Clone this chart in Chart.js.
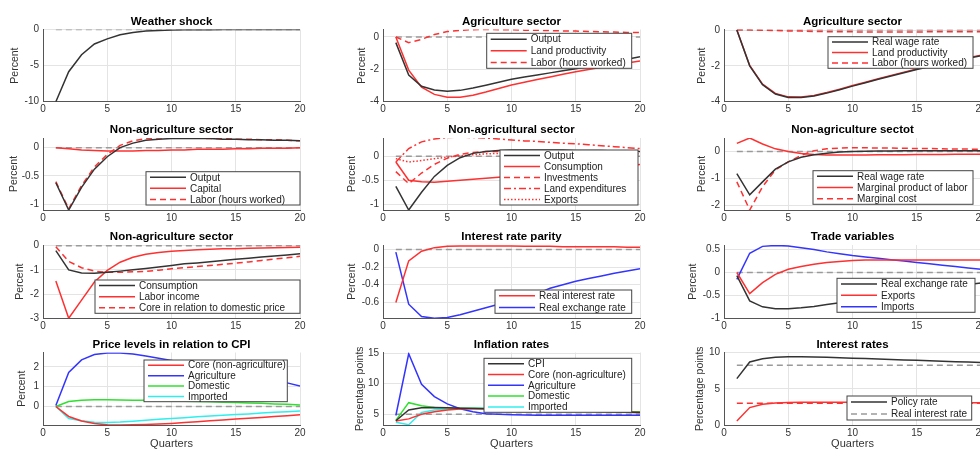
<!DOCTYPE html>
<html>
<head>
<meta charset="utf-8">
<script src="https://cdn.jsdelivr.net/npm/chart.js@4.4.1/dist/chart.umd.min.js"></script>
<style>
  html, body { margin: 0; padding: 0; background: #fff; }
  body { width: 980px; height: 449px; overflow: hidden; position: relative; }
  canvas { position: absolute; }
</style>
</head>
<body>
<script>
// horizon and axis ticks
const quarters = [1, 2, 3, 4, 5, 6, 7, 8, 9, 10, 11, 12, 13, 14, 15, 16, 17, 18, 19, 20];
const ssX = [1, 20];
const xTicks = [0, 5, 10, 15, 20];

// steady state reference lines
const ssZero = [0, 0];
const ssInflation = [5, 5];
const ssPolicy = [8.25, 8.25];
const ssReal = [3, 3];

// Weather shock
const weatherShock = [-10, -5.85, -3.5, -2.0, -1.3, -0.72, -0.4, -0.22, -0.13, -0.08, -0.05, -0.03, -0.02, -0.01, -0.01, 0, 0, 0, 0, 0];
const yTicksWeather = [-10, -5, 0];

// Agriculture sector (output)
const agrOutput = [-0.35, -2.35, -3.05, -3.28, -3.35, -3.3, -3.15, -2.98, -2.8, -2.62, -2.48, -2.35, -2.22, -2.09, -1.96, -1.82, -1.68, -1.53, -1.38, -1.23];
const agrLandProd = [0, -2.05, -3.1, -3.55, -3.72, -3.72, -3.6, -3.4, -3.18, -2.97, -2.8, -2.63, -2.47, -2.31, -2.15, -2.01, -1.87, -1.74, -1.61, -1.48];
const agrLabor = [0, -0.35, -0.15, 0.15, 0.33, 0.41, 0.45, 0.46, 0.45, 0.44, 0.42, 0.41, 0.39, 0.37, 0.36, 0.34, 0.32, 0.3, 0.28, 0.27];
const yTicksAgr = [-4, -2, 0];

// Agriculture sector (wages)
const agrWage = [0, -2.0, -3.05, -3.57, -3.76, -3.77, -3.68, -3.52, -3.33, -3.13, -2.94, -2.75, -2.56, -2.38, -2.2, -2.04, -1.88, -1.72, -1.57, -1.43];
const agrLandProdW = [0, -1.98, -3.02, -3.54, -3.73, -3.74, -3.65, -3.49, -3.3, -3.1, -2.91, -2.72, -2.53, -2.35, -2.17, -2.01, -1.85, -1.69, -1.54, -1.4];
const agrLaborW = [0.02, 0.01, -0.01, -0.03, -0.05, -0.06, -0.08, -0.09, -0.1, -0.1, -0.11, -0.11, -0.11, -0.11, -0.11, -0.1, -0.1, -0.1, -0.1, -0.1];

// Non-agriculture sector (output)
const naOutput = [-0.62, -1.1, -0.7, -0.38, -0.16, 0.0, 0.08, 0.13, 0.15, 0.16, 0.16, 0.16, 0.16, 0.15, 0.15, 0.14, 0.14, 0.13, 0.13, 0.12];
const naCapital = [0, -0.02, -0.04, -0.05, -0.06, -0.06, -0.06, -0.05, -0.05, -0.04, -0.04, -0.03, -0.03, -0.03, -0.02, -0.02, -0.01, -0.01, -0.01, 0];
const naLabor = [-0.6, -1.08, -0.67, -0.34, -0.12, 0.04, 0.12, 0.16, 0.17, 0.17, 0.17, 0.17, 0.16, 0.16, 0.15, 0.15, 0.14, 0.14, 0.13, 0.12];
const yTicksHalf = [-1, -0.5, 0];

// Non-agricultural sector (demand)
const ndOutput = [-0.63, -1.12, -0.75, -0.42, -0.19, -0.03, 0.06, 0.1, 0.12, 0.13, 0.13, 0.13, 0.13, 0.13, 0.12, 0.12, 0.12, 0.11, 0.11, 0.1];
const ndConsumption = [-0.12, -0.5, -0.53, -0.54, -0.52, -0.5, -0.48, -0.46, -0.44, -0.42, -0.4, -0.37, -0.35, -0.32, -0.3, -0.27, -0.25, -0.22, -0.2, -0.17];
const ndInvestments = [-0.32, -0.57, -0.35, -0.17, -0.04, 0.04, 0.08, 0.1, 0.1, 0.1, 0.1, 0.09, 0.09, 0.08, 0.08, 0.07, 0.07, 0.06, 0.06, 0.05];
const ndLandExp = [-0.12, 0.16, 0.3, 0.36, 0.39, 0.4, 0.39, 0.38, 0.36, 0.34, 0.32, 0.31, 0.29, 0.27, 0.26, 0.24, 0.22, 0.2, 0.18, 0.16];
const ndExports = [-0.05, -0.12, -0.09, -0.05, -0.02, 0.01, 0.03, 0.05, 0.06, 0.07, 0.07, 0.08, 0.08, 0.08, 0.08, 0.08, 0.08, 0.08, 0.08, 0.08];

// Non-agriculture sector (costs)
const ncWage = [-0.82, -1.6, -1.12, -0.65, -0.38, -0.21, -0.12, -0.06, -0.02, 0, 0.01, 0.02, 0.02, 0.03, 0.03, 0.03, 0.03, 0.03, 0.03, 0.03];
const ncMpl = [0.3, 0.5, 0.28, 0.1, 0.0, -0.07, -0.11, -0.13, -0.13, -0.13, -0.13, -0.12, -0.12, -0.12, -0.11, -0.11, -0.11, -0.1, -0.1, -0.1];
const ncMc = [-1.12, -2.16, -1.3, -0.68, -0.38, -0.14, 0.03, 0.1, 0.13, 0.14, 0.14, 0.13, 0.13, 0.12, 0.11, 0.11, 0.1, 0.09, 0.09, 0.08];
const yTicksCost = [-2, -1, 0];

// Non-agriculture sector (income)
const niConsumption = [-0.2, -1.0, -1.13, -1.14, -1.1, -1.05, -0.99, -0.94, -0.88, -0.82, -0.75, -0.71, -0.66, -0.61, -0.56, -0.52, -0.47, -0.42, -0.38, -0.33];
const niLaborIncome = [-1.46, -3.0, -2.25, -1.5, -1.02, -0.68, -0.48, -0.35, -0.28, -0.23, -0.2, -0.17, -0.15, -0.13, -0.12, -0.1, -0.09, -0.08, -0.07, -0.06];
const niCoreRel = [-0.04, -0.65, -0.91, -1.05, -1.1, -1.1, -1.08, -1.06, -1.01, -0.95, -0.91, -0.86, -0.82, -0.77, -0.72, -0.67, -0.61, -0.55, -0.5, -0.44];
const yTicksIncome = [-3, -2, -1, 0];

// Interest rate parity
const realInterest = [-0.6, -0.13, -0.02, 0.02, 0.035, 0.04, 0.04, 0.04, 0.04, 0.04, 0.035, 0.035, 0.035, 0.03, 0.03, 0.03, 0.03, 0.03, 0.025, 0.025];
const realExchange = [-0.03, -0.62, -0.76, -0.78, -0.77, -0.74, -0.7, -0.66, -0.62, -0.58, -0.54, -0.5, -0.44, -0.4, -0.36, -0.33, -0.3, -0.27, -0.245, -0.22];
const yTicksParity = [-0.6, -0.4, -0.2, 0];

// Trade variables
const tradeRer = [-0.07, -0.62, -0.75, -0.79, -0.79, -0.77, -0.74, -0.7, -0.66, -0.62, -0.58, -0.54, -0.5, -0.46, -0.42, -0.38, -0.34, -0.3, -0.26, -0.23];
const tradeExports = [0, -0.46, -0.22, -0.04, 0.07, 0.13, 0.18, 0.22, 0.24, 0.26, 0.27, 0.27, 0.27, 0.27, 0.27, 0.27, 0.27, 0.27, 0.27, 0.27];
const tradeImports = [-0.15, 0.42, 0.57, 0.59, 0.58, 0.54, 0.5, 0.45, 0.41, 0.37, 0.34, 0.31, 0.28, 0.25, 0.22, 0.19, 0.16, 0.13, 0.1, 0.07];
const yTicksTrade = [-1, -0.5, 0, 0.5];

// Price levels in relation to CPI
const priceCore = [0, -0.5, -0.73, -0.86, -0.92, -0.93, -0.92, -0.9, -0.88, -0.85, -0.81, -0.77, -0.72, -0.68, -0.63, -0.59, -0.55, -0.5, -0.46, -0.42];
const priceAgr = [0.05, 1.72, 2.35, 2.62, 2.7, 2.7, 2.64, 2.54, 2.43, 2.32, 2.2, 2.08, 1.96, 1.84, 1.72, 1.59, 1.46, 1.33, 1.19, 1.03];
const priceDom = [0, 0.25, 0.32, 0.34, 0.34, 0.33, 0.32, 0.31, 0.3, 0.28, 0.27, 0.25, 0.24, 0.22, 0.2, 0.18, 0.16, 0.13, 0.11, 0.08];
const priceImp = [0, -0.6, -0.72, -0.79, -0.8, -0.78, -0.74, -0.69, -0.64, -0.6, -0.56, -0.52, -0.48, -0.44, -0.4, -0.37, -0.33, -0.29, -0.26, -0.22];
const yTicksPrice = [0, 1, 2];

// Inflation rates
const inflCpi = [3.95, 5.7, 6.05, 6.1, 6.05, 6.0, 5.95, 5.9, 5.85, 5.8, 5.75, 5.7, 5.65, 5.6, 5.55, 5.5, 5.45, 5.4, 5.35, 5.3];
const inflCore = [3.9, 4.25, 5.0, 5.4, 5.7, 5.85, 5.9, 5.9, 5.88, 5.85, 5.8, 5.75, 5.7, 5.65, 5.6, 5.52, 5.45, 5.4, 5.35, 5.3];
const inflAgr = [4.8, 14.9, 9.9, 7.9, 6.7, 5.9, 5.4, 5.1, 5.0, 4.92, 4.88, 4.86, 4.85, 4.85, 4.85, 4.85, 4.85, 4.85, 4.85, 4.85];
const inflDom = [4.0, 6.9, 6.4, 6.1, 6.05, 6.0, 5.97, 5.95, 5.9, 5.85, 5.8, 5.75, 5.7, 5.65, 5.6, 5.55, 5.5, 5.47, 5.43, 5.4];
const inflImp = [3.7, 3.3, 5.3, 5.7, 5.85, 5.95, 6.0, 6.0, 5.98, 5.95, 5.9, 5.85, 5.8, 5.73, 5.66, 5.6, 5.53, 5.47, 5.41, 5.35];
const yTicksInfl = [5, 10, 15];

// Interest rates
const policyRate = [6.4, 8.7, 9.15, 9.35, 9.4, 9.4, 9.38, 9.33, 9.28, 9.22, 9.16, 9.1, 9.04, 8.98, 8.92, 8.86, 8.8, 8.74, 8.68, 8.62];
const realRate = [0.55, 2.4, 2.85, 3.05, 3.12, 3.15, 3.15, 3.15, 3.14, 3.14, 3.13, 3.12, 3.12, 3.11, 3.1, 3.1, 3.09, 3.08, 3.08, 3.07];
const yTicksRates = [0, 5, 10];

// colours and line styles
const BLACK = '#333333';
const RED = '#ff3030';
const BLUE = '#3434ff';
const GREEN = '#30e030';
const CYAN = '#30eeee';
const GREY = '#9a9a9a';
const DASH = [6, 4];
const DASHDOT = [7, 3, 2, 3];
const DOT = [1.5, 2];

const FONT = "'Liberation Sans', Arial, Helvetica, sans-serif";
Chart.defaults.font.family = FONT;

// plot area geometry (page pixels)
const COLS = [43, 383, 724];
const ROW_TOP = [29.5, 138, 245, 352.5];
const ROW_BOT = [101.7, 210, 318.3, 425];
const PLOT_W = 257;
const Y_W = 44;

function line(label, y, color, dash, x) {
  return { label, x: x || quarters, y, color, dash: dash || [] };
}
function ssLine(y, color) {
  return { label: '', x: ssX, y, color: color || GREY, dash: DASH, ss: true };
}

const panels = [
  { col: 0, row: 0, title: 'Weather shock', min: -10, max: 0, yTicks: yTicksWeather, ylabDist: 27.7,
    series: [line('Weather shock', weatherShock, BLACK), ssLine(ssZero)], legend: null },
  { col: 1, row: 0, title: 'Agriculture sector', min: -4, max: 0.46, yTicks: yTicksAgr, ylabDist: 21.3,
    series: [line('Output', agrOutput, BLACK), line('Land productivity', agrLandProd, RED), line('Labor (hours worked)', agrLabor, RED, DASH), ssLine(ssZero)],
    legend: [486.7, 33.3, 631.7, 68.3] },
  { col: 2, row: 0, title: 'Agriculture sector', min: -4, max: 0.03, yTicks: yTicksAgr, ylabDist: 22.3,
    series: [line('Real wage rate', agrWage, BLACK), line('Land productivity', agrLandProdW, RED), line('Labor (hours worked)', agrLaborW, RED, DASH), ssLine(ssZero)],
    legend: [828, 36.7, 973, 68.3] },
  { col: 0, row: 1, title: 'Non-agriculture sector', min: -1.1, max: 0.17, yTicks: yTicksHalf, ylabDist: 29.3,
    series: [line('Output', naOutput, BLACK), line('Capital', naCapital, RED), line('Labor (hours worked)', naLabor, RED, DASH), ssLine(ssZero)],
    legend: [146, 171.7, 300, 205] },
  { col: 1, row: 1, title: 'Non-agricultural sector', min: -1.12, max: 0.38, yTicks: yTicksHalf, ylabDist: 31.3,
    series: [line('Output', ndOutput, BLACK), line('Consumption', ndConsumption, RED), line('Investments', ndInvestments, RED, DASH),
      line('Land expenditures', ndLandExp, RED, DASHDOT), line('Exports', ndExports, RED, DOT), ssLine(ssZero)],
    legend: [500, 150, 638, 205] },
  { col: 2, row: 1, title: 'Non-agriculture sectot', min: -2.16, max: 0.5, yTicks: yTicksCost, ylabDist: 22.3,
    series: [line('Real wage rate', ncWage, BLACK), line('Marginal product of labor', ncMpl, RED), line('Marginal cost', ncMc, RED, DASH), ssLine(ssZero)],
    legend: [813, 170.7, 973, 204.3] },
  { col: 0, row: 2, title: 'Non-agriculture sector', min: -3, max: 0.03, yTicks: yTicksIncome, ylabDist: 22.7,
    series: [line('Consumption', niConsumption, BLACK), line('Labor income', niLaborIncome, RED), line('Core in relation to domestic price', niCoreRel, RED, DASH), ssLine(ssZero)],
    legend: [95, 280, 300, 313.3] },
  { col: 1, row: 2, title: 'Interest rate parity', min: -0.78, max: 0.05, yTicks: yTicksParity, ylabDist: 31.3,
    series: [line('Real interest rate', realInterest, RED), line('Real exchange rate', realExchange, BLUE), ssLine(ssZero)],
    legend: [495, 290, 631.7, 313.3] },
  { col: 2, row: 2, title: 'Trade variables', min: -1, max: 0.6, yTicks: yTicksTrade, ylabDist: 30.7,
    series: [line('Real exchange rate', tradeRer, BLACK), line('Exports', tradeExports, RED), line('Imports', tradeImports, BLUE), ssLine(ssZero)],
    legend: [837, 278.3, 975, 312.3] },
  { col: 0, row: 3, title: 'Price levels in relation to CPI', min: -0.93, max: 2.72, yTicks: yTicksPrice, ylabDist: 21, xLabel: 'Quarters',
    series: [line('Core (non-agriculture)', priceCore, RED), line('Agriculture', priceAgr, BLUE), line('Domestic', priceDom, GREEN), line('Imported', priceImp, CYAN), ssLine(ssZero)],
    legend: [144, 360, 287.3, 401.7] },
  { col: 1, row: 3, title: 'Inflation rates', min: 3.25, max: 15.1, yTicks: yTicksInfl, ylabDist: 23, xLabel: 'Quarters', yLabel: 'Percentage points',
    series: [line('CPI', inflCpi, BLACK), line('Core (non-agriculture)', inflCore, RED), line('Agriculture', inflAgr, BLUE),
      line('Domestic', inflDom, GREEN), line('Imported', inflImp, CYAN), ssLine(ssInflation)],
    legend: [484, 358.3, 631.7, 412.3] },
  { col: 2, row: 3, title: 'Interest rates', min: 0, max: 10, yTicks: yTicksRates, ylabDist: 24, xLabel: 'Quarters', yLabel: 'Percentage points',
    series: [line('Policy rate', policyRate, BLACK), { label: 'Real interest rate', x: ssX, y: ssPolicy, color: GREY, dash: DASH },
      line('', realRate, RED), ssLine(ssReal, RED)],
    legend: [847, 396, 971.7, 420], legendCount: 2 },
];

// draws the panel title and the boxed legend inside the axes
const panelDecor = {
  id: 'panelDecor',
  afterDraw(chart, args, opts) {
    const ctx = chart.ctx;
    const area = chart.chartArea;
    ctx.save();
    ctx.fillStyle = '#000';
    ctx.font = 'bold 11.5px ' + FONT;
    ctx.textAlign = 'center';
    ctx.textBaseline = 'middle';
    ctx.fillText(opts.title, (area.left + area.right) / 2, area.top - 8);

    if (opts.legend) {
      const [l, t, r, b] = opts.legend.map((v, i) => v - (i % 2 === 0 ? opts.offX : opts.offY));
      const sets = chart.data.datasets.filter((d) => !d.ss).slice(0, opts.legendCount || 99);
      ctx.fillStyle = '#fff';
      ctx.fillRect(l, t, r - l, b - t);
      ctx.strokeStyle = '#444';
      ctx.lineWidth = 1;
      ctx.strokeRect(l, t, r - l, b - t);
      const rowH = (b - t) / sets.length;
      ctx.font = '10px ' + FONT;
      ctx.textAlign = 'left';
      sets.forEach((d, i) => {
        const yc = t + rowH * (i + 0.5);
        ctx.strokeStyle = d.borderColor;
        ctx.lineWidth = d.borderWidth;
        ctx.setLineDash(d.borderDash);
        ctx.beginPath();
        ctx.moveTo(l + 4, yc);
        ctx.lineTo(l + 40, yc);
        ctx.stroke();
        ctx.setLineDash([]);
        ctx.fillStyle = '#222';
        ctx.fillText(d.label, l + 44, yc + 0.5);
      });
    }
    ctx.restore();
  },
};

function makePanel(p) {
  const L = COLS[p.col];
  const T = ROW_TOP[p.row];
  const B = ROW_BOT[p.row];
  const xh = p.xLabel ? 27 : 18;
  const left = L - Y_W;
  const top = Math.floor(T) - 20;
  const width = Y_W + PLOT_W + 10;
  const height = Math.ceil(B - top + xh);

  const canvas = document.createElement('canvas');
  canvas.width = width;
  canvas.height = height;
  canvas.style.left = left + 'px';
  canvas.style.top = top + 'px';
  canvas.style.width = width + 'px';
  canvas.style.height = height + 'px';
  document.body.appendChild(canvas);

  const datasets = p.series.map((s) => ({
    label: s.label,
    ss: !!s.ss,
    data: s.x.map((x, i) => ({ x, y: s.y[i] })),
    borderColor: s.color,
    borderWidth: 1.5,
    borderDash: s.dash,
    pointRadius: 0,
    tension: 0,
    fill: false,
  }));

  new Chart(canvas, {
    type: 'line',
    data: { datasets },
    options: {
      responsive: false,
      animation: false,
      devicePixelRatio: 1,
      layout: { padding: { top: T - top, right: 10, bottom: height - xh - (B - top), left: 0 } },
      plugins: {
        legend: { display: false },
        tooltip: { enabled: false },
        title: { display: false },
        panelDecor: { title: p.title, legend: p.legend, legendCount: p.legendCount, offX: left, offY: top },
      },
      scales: {
        x: {
          type: 'linear',
          min: 0,
          max: 20,
          afterBuildTicks: (s) => { s.ticks = xTicks.map((v) => ({ value: v })); },
          afterFit: (s) => { s.height = xh; },
          grid: { color: '#e4e4e4', drawTicks: false },
          border: { color: '#555' },
          ticks: { padding: 2, color: '#333', maxRotation: 0, autoSkip: false, font: { size: 10 }, callback: (v) => String(v) },
          title: { display: !!p.xLabel, text: p.xLabel || '', color: '#333', font: { size: 11 }, padding: { top: 0, bottom: 1 } },
        },
        y: {
          type: 'linear',
          min: p.min,
          max: p.max,
          afterBuildTicks: (s) => { s.ticks = p.yTicks.map((v) => ({ value: v })); },
          afterFit: (s) => { s.width = Y_W; },
          grid: { color: '#e4e4e4', drawTicks: false },
          border: { color: '#555' },
          ticks: { padding: 4, color: '#333', font: { size: 10 }, callback: (v) => String(v) },
          title: { display: true, text: p.yLabel || 'Percent', color: '#333', font: { size: 10.5 },
            padding: { top: Y_W - p.ylabDist - 6.3, bottom: 0 } },
        },
      },
    },
    plugins: [panelDecor],
  });
}

panels.forEach(makePanel);
</script>
</body>
</html>
